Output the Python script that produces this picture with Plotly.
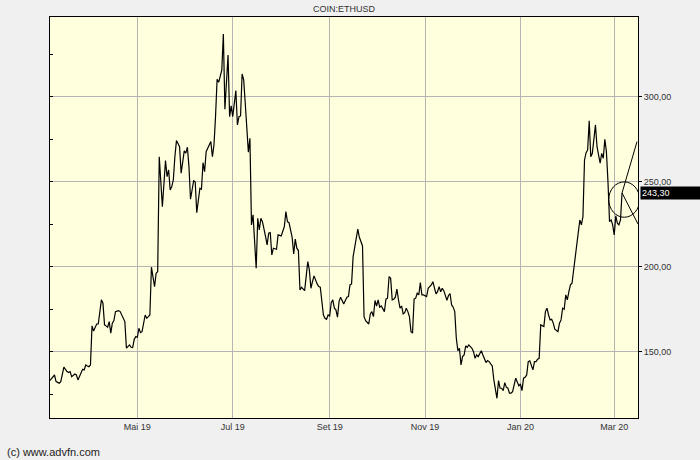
import pandas as pd
import plotly.graph_objects as go

# ETH/USD daily close (day = days after 2019-03-06)
start = pd.Timestamp("2019-03-06")
days = [
    0, 3, 4, 6, 7, 9, 11, 12, 13, 14, 16, 17, 18, 20, 21, 22, 23, 24, 25, 26,
    27, 28, 29, 30, 31, 32, 33, 34, 35, 36, 37, 38, 39, 40, 41, 42, 44, 45, 46, 47,
    48, 49, 50, 51, 52, 53, 54, 55, 56, 57, 58, 59, 61, 62, 63, 64, 65, 67, 68, 69,
    70, 72, 74, 75, 76, 77, 78, 79, 80, 81, 83, 84, 86, 87, 88, 89, 90, 91, 92, 93,
    94, 96, 97, 98, 99, 100, 101, 103, 104, 105, 106, 107, 108, 110, 111, 112, 114, 115, 116, 117,
    119, 120, 121, 122, 123, 124, 125, 127, 128, 129, 130, 132, 133, 134, 135, 136, 138, 139, 140, 141,
    142, 143, 145, 146, 148, 149, 150, 151, 152, 153, 155, 156, 157, 158, 159, 160, 161, 163, 164, 165,
    166, 167, 168, 169, 171, 172, 173, 174, 175, 176, 177, 178, 179, 180, 181, 182, 183, 184, 185, 186,
    187, 188, 190, 191, 192, 193, 194, 195, 197, 198, 200, 201, 202, 204, 205, 206, 207, 208, 209, 210,
    211, 212, 213, 214, 215, 216, 217, 218, 219, 220, 221, 222, 223, 224, 225, 226, 227, 228, 229, 230,
    231, 232, 233, 234, 235, 236, 237, 238, 239, 241, 242, 244, 245, 247, 248, 249, 250, 251, 252, 254,
    255, 256, 257, 258, 259, 260, 261, 262, 263, 264, 265, 266, 267, 268, 270, 271, 272, 273, 274, 276,
    277, 278, 279, 280, 281, 282, 283, 284, 286, 287, 288, 289, 290, 291, 292, 293, 294, 295, 296, 298,
    299, 300, 301, 302, 303, 304, 305, 306, 307, 308, 309, 310, 311, 312, 313, 314, 316, 317, 318, 319,
    320, 321, 322, 323, 325, 326, 327, 328, 329, 330, 331, 332, 333, 334, 335, 336, 337, 338, 339, 340,
    341, 342, 343, 344, 345, 346, 347, 349, 350, 351, 352, 353, 354, 355, 356, 357, 358, 359, 360, 361,
    362, 363, 364, 365, 366,
]
close = [
    132.9, 136.2, 132.3, 131.4, 132.3, 140.8, 138.2, 137.6, 138.2, 135.2, 136.8, 136.2, 133.3, 137.6, 139.6, 139.2, 142.1, 141.5, 141.1, 142.1,
    165.1, 162.1, 164.3, 166.2, 166.2, 174.5, 180.4, 178.4, 165.7, 165.1, 164.3, 167.6, 160.8, 166.7, 168.2, 173.5, 174.1, 173.5, 171.5, 170.5,
    167.6, 152.0, 152.9, 153.9, 152.5, 152.3, 157.2, 158.8, 158.4, 163.7, 161.1, 161.7, 171.5, 169.6, 170.5, 171.5, 199.6, 188.2, 196.1, 197.0,
    264.6, 235.2, 262.3, 252.9, 256.8, 245.1, 247.0, 250.9, 264.6, 274.1, 270.5, 254.9, 268.0, 266.7, 270.2, 258.8, 239.6, 245.1, 250.5, 249.9,
    231.7, 246.1, 245.5, 261.1, 255.8, 267.6, 269.6, 273.5, 264.6, 271.5, 288.2, 310.2, 308.4, 315.6, 336.8, 292.5, 324.5, 288.2, 294.5, 288.2,
    303.5, 283.3, 288.2, 288.6, 313.3, 309.8, 296.1, 267.3, 275.5, 224.5, 230.4, 199.0, 228.4, 221.5, 228.4, 226.4, 217.6, 212.7, 219.6, 220.0,
    206.8, 210.8, 210.2, 218.6, 218.0, 221.1, 223.5, 232.3, 226.4, 225.8, 217.2, 207.4, 216.1, 210.8, 209.4, 186.2, 187.8, 185.8, 194.1, 202.9,
    198.0, 187.2, 191.1, 194.5, 189.8, 188.2, 187.8, 178.8, 171.5, 169.6, 169.0, 171.5, 170.9, 178.8, 180.4, 175.5, 174.5, 170.2, 179.4, 182.0,
    180.4, 178.0, 182.0, 182.3, 189.2, 189.8, 205.8, 210.8, 222.0, 217.2, 212.1, 170.5, 168.2, 166.2, 172.1, 173.5, 170.5, 180.0, 176.8, 180.4,
    176.1, 176.8, 175.5, 173.5, 180.8, 181.4, 194.1, 193.1, 180.4, 180.8, 182.0, 186.7, 180.4, 175.5, 176.8, 172.1, 172.9, 175.5, 173.5, 170.5,
    161.7, 160.8, 180.8, 181.4, 184.3, 183.3, 190.5, 183.3, 183.3, 182.3, 187.2, 189.2, 191.1, 183.9, 185.2, 188.2, 185.2, 187.2, 185.8, 180.2,
    183.0, 184.1, 177.4, 176.1, 173.5, 157.8, 150.5, 151.9, 142.1, 147.0, 148.0, 153.3, 152.5, 153.9, 151.9, 149.9, 146.0, 148.0, 147.0, 150.5,
    148.0, 145.5, 143.5, 144.7, 144.1, 142.7, 141.5, 133.3, 122.5, 132.9, 128.4, 128.4, 127.0, 131.7, 129.0, 128.4, 125.5, 125.5, 126.4, 134.3,
    131.4, 129.8, 130.9, 127.0, 134.3, 134.9, 136.2, 144.1, 144.5, 141.5, 139.2, 144.1, 144.1, 145.5, 146.0, 165.7, 164.7, 173.5, 175.5, 171.5,
    168.6, 169.0, 166.7, 163.1, 161.7, 166.7, 168.6, 175.5, 174.9, 183.3, 180.4, 185.2, 189.2, 190.2, 198.0, 205.8, 212.7, 221.9, 227.4, 224.5,
    229.4, 262.7, 267.0, 268.6, 285.8, 264.6, 266.6, 283.3, 270.5, 265.6, 260.8, 266.6, 263.7, 274.9, 267.6, 250.0, 226.4, 227.4, 224.5, 218.6,
    229.8, 225.5, 224.5, 227.4, 243.3,
]

month_ticks = ["2019-05-01", "2019-07-01", "2019-09-01", "2019-11-01", "2020-01-01", "2020-03-01"]
month_labels = ["Mai 19", "Jul 19", "Set 19", "Nov 19", "Jan 20", "Mar 20"]
price_ticks = [150, 200, 250, 300]
price_labels = ["150,00", "200,00", "250,00", "300,00"]
minor_ticks = [125, 150, 175, 200, 225, 250, 275, 300, 325]

# drawing on the chart: a circle round the last quote and two rays from it
circle_x = ["2020-02-26 12:00", "2020-03-17 07:00"]
circle_y = [229.0, 249.8]
ray_end_x = ["2020-03-15 14:00", "2020-03-16 05:00"]
ray_end_y = [273.5, 225.0]

dates = start + pd.to_timedelta(days, unit="D")
last_date, last_value = dates[-1], close[-1]

fig = go.Figure()
fig.add_trace(go.Scatter(
    x=dates, y=close, mode="lines",
    line=dict(color="black", width=1.2),
    hoverinfo="skip", showlegend=False,
))
# invisible trace so the left axis (minor ticks only) is drawn
fig.add_trace(go.Scatter(
    x=[dates[0]], y=[close[0]], yaxis="y2", mode="markers",
    marker=dict(opacity=0), hoverinfo="skip", showlegend=False,
))

shape_line = dict(color="black", width=1)
fig.add_shape(type="circle", xref="x", yref="y",
              x0=circle_x[0], x1=circle_x[1], y0=circle_y[0], y1=circle_y[1],
              line=shape_line)
for ex, ey in zip(ray_end_x, ray_end_y):
    fig.add_shape(type="line", xref="x", yref="y",
                  x0=last_date, y0=last_value, x1=ex, y1=ey, line=shape_line)

fig.add_annotation(
    xref="paper", x=1, xanchor="left", xshift=2,
    yref="y", y=last_value, yanchor="middle",
    text=f"{last_value:.2f}".replace(".", ","),
    showarrow=False, bgcolor="black", borderpad=1, width=58, align="left",
    font=dict(family="Liberation Sans, Arial", size=9, color="white"),
)
fig.add_annotation(
    xref="paper", yref="paper", x=0.5, y=1, yshift=8, yanchor="middle",
    text="COIN:ETHUSD", showarrow=False,
    font=dict(family="Liberation Sans, Arial", size=9, color="#333333"),
)
fig.add_annotation(
    xref="paper", yref="paper", x=-50 / 588, xshift=5, xanchor="left",
    y=0, yshift=-34, yanchor="middle",
    text="(c) www.advfn.com", showarrow=False,
    font=dict(family="Liberation Sans, Arial", size=11, color="#222222"),
)

y_range = [110.9, 346.8]
fig.update_layout(
    width=700, height=460,
    margin=dict(l=50, r=62, t=17, b=42, pad=0),
    paper_bgcolor="#f0f0f0",
    plot_bgcolor="#ffffdd",
    font=dict(family="Liberation Sans, Arial", size=9, color="#333333"),
    hovermode=False,
    xaxis=dict(
        type="date",
        range=["2019-03-06 03:00", "2020-03-16 05:00"],
        tickvals=month_ticks, ticktext=month_labels,
        showgrid=True, gridcolor="#b4b4b4", gridwidth=1,
        showline=True, linecolor="black", linewidth=1, mirror=True,
        ticks="", zeroline=False,
    ),
    yaxis=dict(
        side="right", range=y_range,
        tickvals=price_ticks, ticktext=price_labels,
        showgrid=True, gridcolor="#b4b4b4", gridwidth=1,
        showline=True, linecolor="black", linewidth=1, mirror=True,
        ticks="outside", ticklen=3, tickcolor="black", zeroline=False,
    ),
    yaxis2=dict(
        overlaying="y", side="left", range=y_range,
        tickvals=minor_ticks, showticklabels=False,
        ticks="inside", ticklen=3, tickcolor="black",
        showgrid=False, showline=False, zeroline=False,
    ),
)

# the page has a default 8px body margin; drop it so the chart sits at the corner
fig.write_html("out.html", config={"displayModeBar": False},
               post_script="document.body.style.margin='0';")
